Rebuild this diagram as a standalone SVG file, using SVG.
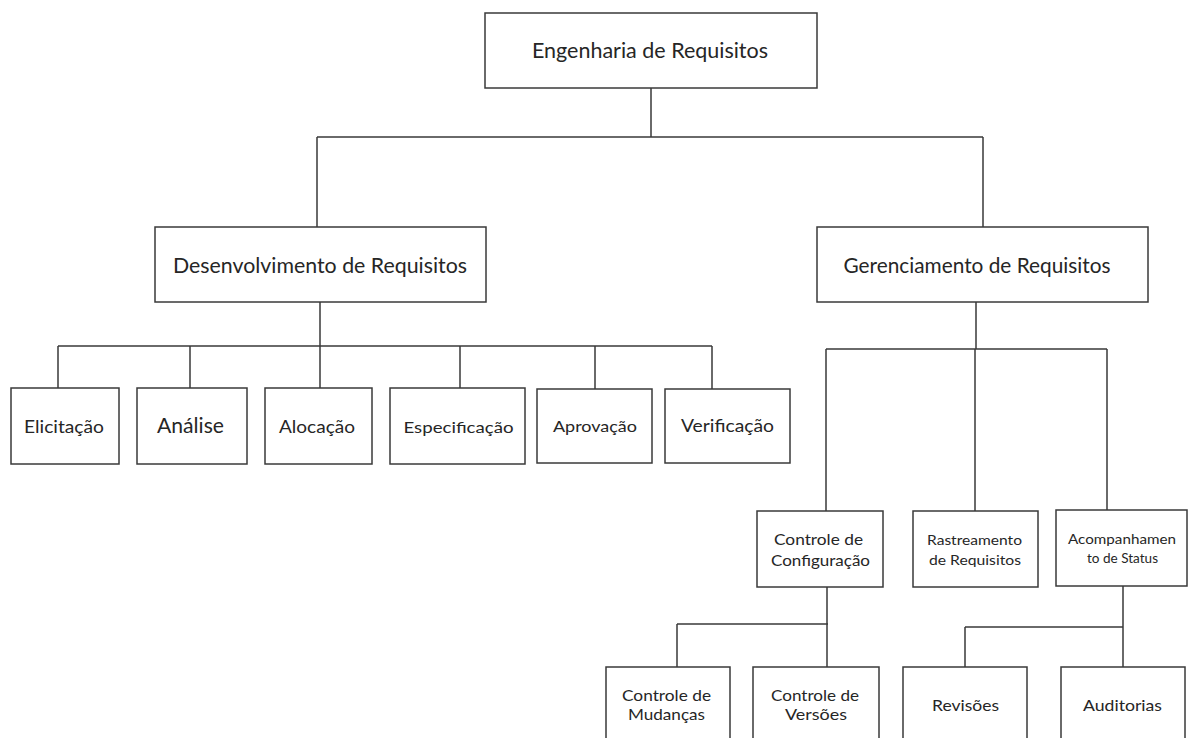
<svg xmlns="http://www.w3.org/2000/svg" width="1188" height="738" viewBox="0 0 1188 738">
<style>
.box{fill:#fff;stroke:#3a3a3a;stroke-width:1.5}
.ln{fill:none;stroke:#3a3a3a;stroke-width:1.5}
text{font-family:Lato,"Open Sans","Liberation Sans",sans-serif;fill:#262626;text-anchor:middle}
.t21{font-size:21px}
.t18{font-size:18px}
.t16{font-size:16px}
.t15{font-size:15px}
.t14{font-size:14px}
.t13{font-size:13px}
</style>
<rect width="1188" height="738" fill="#fff"/>
<g id="connectors">
<path class="ln" d="M651 88V137M317 137H983M317 137V227M983 137V227"/>
<path class="ln" d="M320 302V346M58 346H712M58 346V388M190 346V388M320 346V388M460 346V388M595 346V389M712 346V389"/>
<path class="ln" d="M976 302V349M826 349H1107M826 349V511M975 349V511M1107 349V510"/>
<path class="ln" d="M827 587V667M677 624H828M677 624V667"/>
<path class="ln" d="M1123 586V667M965 627H1123M965 627V667"/>
</g>
<g id="n-engenharia"><rect class="box" x="485" y="13" width="332" height="75"/><text class="t21" x="650" y="58" textLength="236" lengthAdjust="spacingAndGlyphs">Engenharia de Requisitos</text></g>
<g id="n-desenvolvimento"><rect class="box" x="155" y="227" width="331" height="75"/><text class="t21" x="320" y="273" textLength="294" lengthAdjust="spacingAndGlyphs">Desenvolvimento de Requisitos</text></g>
<g id="n-gerenciamento"><rect class="box" x="817" y="227" width="331" height="75"/><text class="t21" x="977" y="273" textLength="267" lengthAdjust="spacingAndGlyphs">Gerenciamento de Requisitos</text></g>
<g id="n-elicitacao"><rect class="box" x="11" y="388" width="108" height="76"/><text class="t18" x="64" y="433" textLength="80" lengthAdjust="spacingAndGlyphs">Elicitação</text></g>
<g id="n-analise"><rect class="box" x="137" y="388" width="110" height="76"/><text class="t21" x="190.5" y="433" textLength="67" lengthAdjust="spacingAndGlyphs">Análise</text></g>
<g id="n-alocacao"><rect class="box" x="265" y="388" width="107" height="76"/><text class="t18" x="317" y="433" textLength="76" lengthAdjust="spacingAndGlyphs">Alocação</text></g>
<g id="n-especificacao"><rect class="box" x="390" y="388" width="135" height="76"/><text class="t15" x="458.5" y="433" textLength="110" lengthAdjust="spacingAndGlyphs">Especificação</text></g>
<g id="n-aprovacao"><rect class="box" x="537" y="389" width="115" height="74"/><text class="t16" x="595" y="432" textLength="84" lengthAdjust="spacingAndGlyphs">Aprovação</text></g>
<g id="n-verificacao"><rect class="box" x="665" y="389" width="125" height="74"/><text class="t18" x="727.5" y="432" textLength="93" lengthAdjust="spacingAndGlyphs">Verificação</text></g>
<g id="n-configuracao"><rect class="box" x="757" y="511" width="126" height="76"/><text class="t15" x="818.5" y="545" textLength="89" lengthAdjust="spacingAndGlyphs">Controle de</text><text class="t15" x="820.5" y="566" textLength="99" lengthAdjust="spacingAndGlyphs">Configuração</text></g>
<g id="n-rastreamento"><rect class="box" x="913" y="511" width="125" height="76"/><text class="t13" x="974.5" y="545" textLength="95" lengthAdjust="spacingAndGlyphs">Rastreamento</text><text class="t13" x="975" y="565" textLength="92" lengthAdjust="spacingAndGlyphs">de Requisitos</text></g>
<g id="n-acompanhamento"><rect class="box" x="1056" y="510" width="131" height="76"/><text class="t14" x="1122" y="544" textLength="108" lengthAdjust="spacingAndGlyphs">Acompanhamen</text><text class="t14" x="1122.5" y="563" textLength="71" lengthAdjust="spacingAndGlyphs">to de Status</text></g>
<g id="n-mudancas"><rect class="box" x="606" y="667" width="124" height="80"/><text class="t15" x="666.5" y="701" textLength="89" lengthAdjust="spacingAndGlyphs">Controle de</text><text class="t15" x="666.5" y="720" textLength="77" lengthAdjust="spacingAndGlyphs">Mudanças</text></g>
<g id="n-versoes"><rect class="box" x="753" y="667" width="126" height="80"/><text class="t15" x="815" y="701" textLength="88" lengthAdjust="spacingAndGlyphs">Controle de</text><text class="t15" x="816" y="720" textLength="62" lengthAdjust="spacingAndGlyphs">Versões</text></g>
<g id="n-revisoes"><rect class="box" x="903" y="667" width="124" height="80"/><text class="t15" x="965.5" y="711" textLength="67" lengthAdjust="spacingAndGlyphs">Revisões</text></g>
<g id="n-auditorias"><rect class="box" x="1061" y="667" width="124" height="80"/><text class="t15" x="1122.5" y="711" textLength="79" lengthAdjust="spacingAndGlyphs">Auditorias</text></g>
</svg>
